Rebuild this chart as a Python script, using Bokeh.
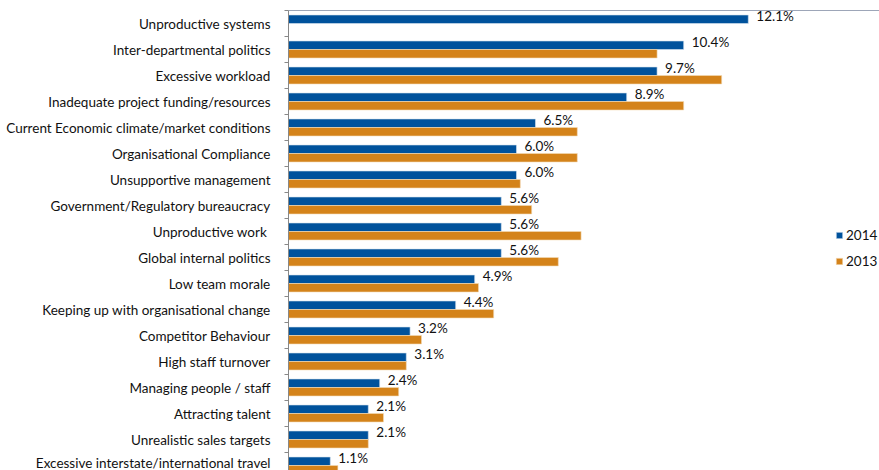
from bokeh.plotting import figure
from bokeh.models import Range1d, FixedTicker, Span, Legend, LegendItem, ColumnDataSource
from bokeh.core.properties import value
from bokeh.embed import file_html
from bokeh.resources import INLINE

categories = [
    "Unproductive systems",
    "Inter-departmental politics",
    "Excessive workload",
    "Inadequate project funding/resources",
    "Current Economic climate/market conditions",
    "Organisational Compliance",
    "Unsupportive management",
    "Government/Regulatory bureaucracy",
    "Unproductive work ",
    "Global internal politics",
    "Low team morale",
    "Keeping up with organisational change",
    "Competitor Behaviour",
    "High staff turnover",
    "Managing people / staff",
    "Attracting talent",
    "Unrealistic sales targets",
    "Excessive interstate/international travel",
]
values_2014 = [12.1, 10.4, 9.7, 8.9, 6.5, 6.0, 6.0, 5.6, 5.6, 5.6, 4.9, 4.4, 3.2, 3.1, 2.4, 2.1, 2.1, 1.1]
values_2013 = [None, 9.7, 11.4, 10.4, 7.6, 7.6, 6.1, 6.4, 7.7, 7.1, 5.0, 5.4, 3.5, 3.1, 2.9, 2.5, 2.1, 1.3]

BLUE = "#00529C"
ORANGE = "#D4831A"
FONT = "Lato"

n = len(categories)
centers = [-i for i in range(n)]
bar_h = 0.327
y14 = [c + bar_h / 2 for c in centers]
y13 = [c - bar_h / 2 for c in centers]

src14 = ColumnDataSource(dict(y=y14, v=values_2014,
                              lab=[f"{v:.1f}%" for v in values_2014]))
idx13 = [i for i, v in enumerate(values_2013) if v is not None]
src13 = ColumnDataSource(dict(y=[y13[i] for i in idx13], v=[values_2013[i] for i in idx13]))

W, H = 879, 470
p = figure(width=W, height=H, output_backend="svg", toolbar_location=None,
           x_range=Range1d(0, 591 / 38.0),
           y_range=Range1d(0.5 - 460 / 26.0, 0.5),
           min_border_left=288, min_border_top=10, min_border_bottom=0, min_border_right=0)
p.outline_line_color = None
p.background_fill_color = "white"
p.border_fill_color = "white"
p.xgrid.visible = False
p.ygrid.visible = False
p.xaxis.visible = False

r14 = p.hbar(y="y", right="v", left=0, height=bar_h, source=src14, color=BLUE,
             line_color="#d8e4f0", line_width=0.6)
r13 = p.hbar(y="y", right="v", left=0, height=bar_h, source=src13, color=ORANGE,
             line_color="#f3dcb8", line_width=0.6)

p.text(x="v", y="y", text="lab", source=src14, x_offset=8, y_offset=-3,
       text_baseline="middle", text_align="left", text_font=value(FONT),
       text_font_size="13.5px", text_color="#111111")

yax = p.yaxis[0]
yax.ticker = FixedTicker(ticks=centers, minor_ticks=[c + 0.5 for c in centers] + [centers[-1] - 0.5])
yax.major_label_overrides = {c: categories[i] for i, c in enumerate(centers)}
yax.major_tick_line_color = None
yax.minor_tick_line_color = "#888888"
yax.minor_tick_out = 4
yax.minor_tick_in = 0
yax.axis_line_color = "#888888"
yax.major_label_standoff = 12
yax.major_label_text_font = FONT
yax.major_label_text_font_size = "13.5px"
yax.major_label_text_color = "#111111"

top = Span(location=0.5, dimension="width", line_color="#3d4f73", line_width=1.2)
p.add_layout(top)

legend = Legend(items=[LegendItem(label="2014", renderers=[r14]),
                       LegendItem(label="2013", renderers=[r13])],
                location=(547, 200), orientation="vertical")
legend.glyph_width = 8
legend.glyph_height = 8
legend.label_height = 18
legend.spacing = 8
legend.padding = 0
legend.margin = 0
legend.label_standoff = 3
legend.border_line_color = None
legend.background_fill_alpha = 0
legend.label_text_font = FONT
legend.label_text_font_size = "13.5px"
legend.label_text_color = "#111111"
p.add_layout(legend)

open("out.html", "w").write(file_html(p, INLINE))
